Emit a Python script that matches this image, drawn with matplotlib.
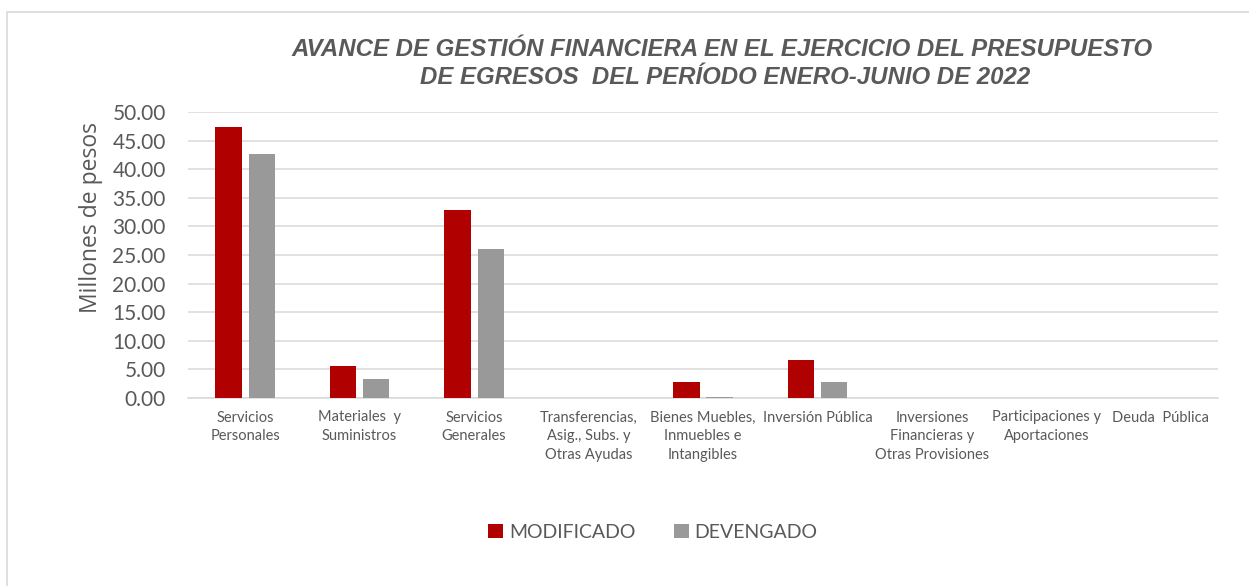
import matplotlib
matplotlib.use("Agg")
import matplotlib.pyplot as plt
from matplotlib.patches import Rectangle
import numpy as np

categories = [
    "Servicios\nPersonales",
    "Materiales  y\nSuministros",
    "Servicios\nGenerales",
    "Transferencias,\nAsig., Subs. y\nOtras Ayudas",
    "Bienes Muebles,\nInmuebles e\nIntangibles",
    "Inversión Pública",
    "Inversiones\nFinancieras y\nOtras Provisiones",
    "Participaciones y\nAportaciones",
    "Deuda  Pública",
]
modificado = [47.3, 5.6, 32.8, 0.0, 2.8, 6.7, 0.0, 0.0, 0.0]
devengado = [42.7, 3.3, 26.1, 0.0, 0.2, 2.8, 0.0, 0.0, 0.0]
yticks = [0, 5, 10, 15, 20, 25, 30, 35, 40, 45, 50]

title_line1 = "AVANCE DE GESTIÓN FINANCIERA EN EL EJERCICIO DEL PRESUPUESTO"
title_line2 = "DE EGRESOS  DEL PERÍODO ENERO-JUNIO DE 2022"

RED = "#B00000"
GRAY = "#999999"
TXT = "#595959"
GRID = "#D9D9D9"

W, H = 1249, 586
fig = plt.figure(figsize=(W / 100, H / 100), dpi=100)
fig.patch.set_facecolor("white")

ax = fig.add_axes([188 / W, 1 - 398 / H, (1218 - 188) / W, (398 - 112) / H])

x = np.arange(len(categories))
bw = 0.23
off = 0.145
ax.bar(x - off, modificado, bw, color=RED, label="MODIFICADO", zorder=3)
ax.bar(x + off, devengado, bw, color=GRAY, label="DEVENGADO", zorder=3)

ax.set_xlim(-0.5, len(categories) - 0.5)
ax.set_ylim(0, 50)
ax.set_yticks(yticks)
ax.set_yticklabels([f"{v:.2f}" for v in yticks], fontfamily="Lato", fontsize=15, color=TXT)
ax.set_xticks(x)
ax.set_xticklabels(categories, fontfamily="Lato", fontsize=10.5, color=TXT, linespacing=1.45, va="top")
ax.tick_params(axis="both", length=0)
ax.tick_params(axis="y", pad=16)
ax.tick_params(axis="x", pad=9)

ax.yaxis.grid(True, color=GRID, linewidth=1.1, zorder=0)
ax.set_axisbelow(True)
for s in ["top", "right", "left"]:
    ax.spines[s].set_visible(False)
ax.spines["bottom"].set_color(GRID)
ax.spines["bottom"].set_linewidth(1.1)

fig.text(91 / W, 1 - 217 / H, "Millones de pesos", rotation=90, ha="center", va="center",
         fontfamily="Open Sans", fontsize=16.5, color=TXT)

fig.text(722 / W, 1 - 50 / H, title_line1, ha="center", va="center",
         fontfamily="Liberation Sans", fontweight="bold", fontstyle="italic", fontsize=17.3, color=TXT)
fig.text(725 / W, 1 - 78 / H, title_line2, ha="center", va="center",
         fontfamily="Liberation Sans", fontweight="bold", fontstyle="italic", fontsize=17.3, color=TXT)

leg = fig.legend(loc="center", bbox_to_anchor=(653 / W, 1 - 532 / H), ncol=2, frameon=False,
                 prop={"family": "Lato", "size": 14}, handlelength=0.75, handleheight=0.75,
                 handletextpad=0.3, columnspacing=2.0, labelcolor=TXT)

fig.patches.append(Rectangle((7 / W, -0.1), 1.2, 1 - 12 / H + 0.1, transform=fig.transFigure,
                             fill=False, edgecolor=GRID, linewidth=1.2, clip_on=False))

fig.savefig("out.png", dpi=100, facecolor="white")
